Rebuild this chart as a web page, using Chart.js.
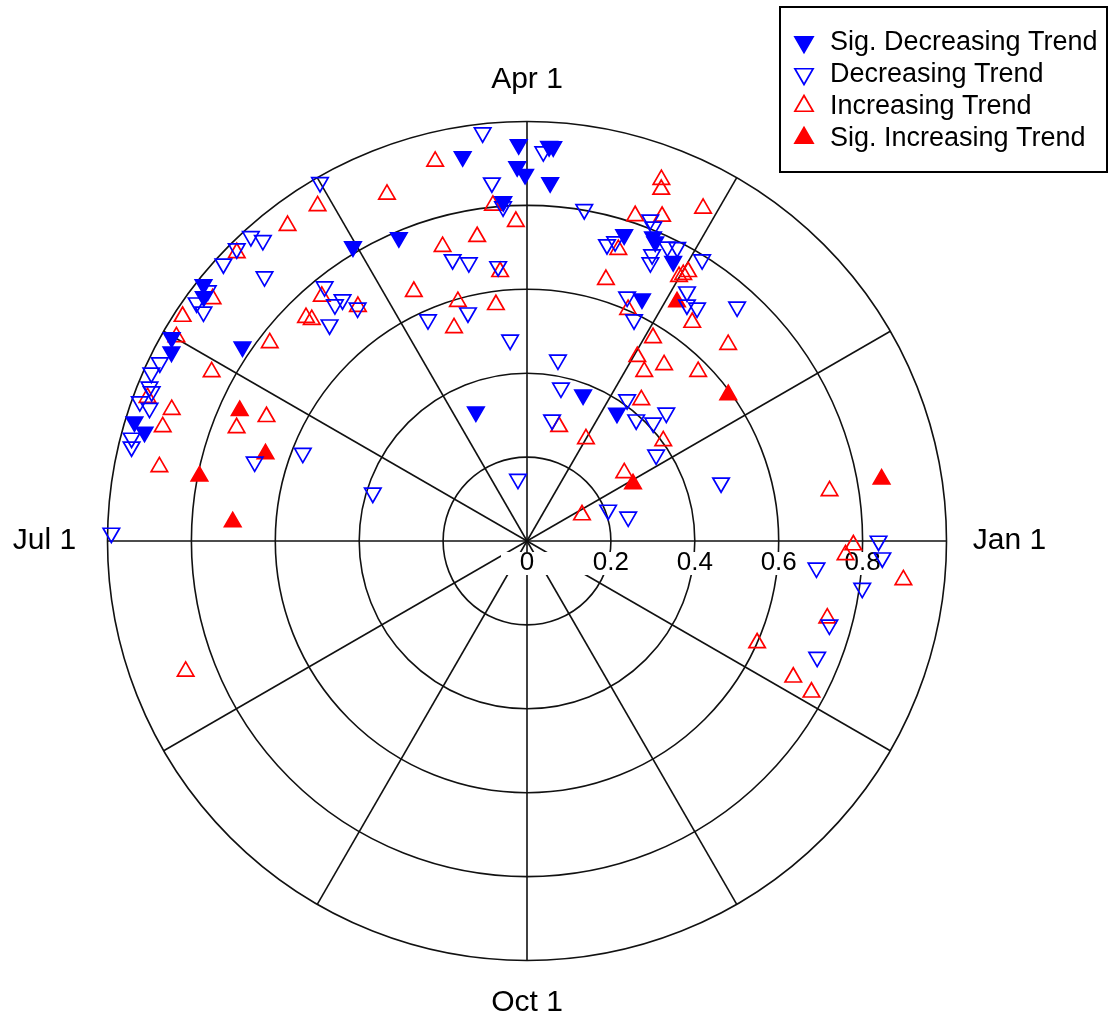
<!DOCTYPE html>
<html>
<head>
<meta charset="utf-8">
<script src="https://cdn.jsdelivr.net/npm/chart.js@4.4.1/dist/chart.umd.min.js"></script>
<style>
  html, body { margin: 0; padding: 0; background: #fff; }
</style>
</head>
<body>
<canvas id="chart" width="1110" height="1020"></canvas>
<script>
// angle = degrees counter-clockwise from Jan 1, r = radial value (0..1)
const seriesNames = ['Sig. Decreasing Trend', 'Decreasing Trend', 'Increasing Trend', 'Sig. Increasing Trend']

const sigDecAngle = [141.6, 142.9, 150.2, 152.0, 163.1, 164.1, 145.7, 120.6, 112.9, 99.5, 91.2, 91.5, 90.3,
  94.0, 86.8, 86.2, 86.3, 111.6, 72.4, 67.5, 66.8, 62.4, 64.6, 69.0, 54.9]
const sigDecR = [0.984, 0.966, 0.976, 0.960, 0.978, 0.948, 0.821, 0.815, 0.785, 0.929, 0.945, 0.893, 0.874,
  0.811, 0.942, 0.942, 0.856, 0.331, 0.766, 0.785, 0.776, 0.752, 0.639, 0.373, 0.373]

const decAngle = [96.2, 120.0, 132.2, 131.3, 134.8, 137.6, 134.8, 141.9, 144.2, 144.7, 154.1, 155.9, 157.8,
  158.3, 160.2, 160.6, 165.4, 166.6, 178.9, 163.8, 158.6, 162.7, 128.5, 129.1, 127.4, 126.0, 132.4, 104.8,
  101.8, 96.0, 95.6, 94.1, 114.1, 104.5, 94.8, 98.3, 87.6, 80.2, 69.0, 68.1, 74.9, 73.6, 64.5, 62.9, 66.4,
  66.1, 58.1, 57.3, 67.7, 55.9, 53.9, 48.1, 64.2, 80.3, 77.5, 54.7, 48.0, 43.1, 42.6, 78.3, 33.7, 16.7,
  20.9, 13.4, 0.0, 357.3, 354.7, 352.0, 344.5, 338.2]
const decR = [0.979, 0.987, 0.980, 0.954, 0.982, 0.980, 0.888, 0.967, 0.971, 0.945, 0.973, 0.981, 0.972,
  0.963, 0.981, 0.954, 0.974, 0.969, 0.991, 0.676, 0.574, 0.385, 0.775, 0.726, 0.724, 0.687, 0.698, 0.694,
  0.678, 0.658, 0.858, 0.799, 0.578, 0.562, 0.481, 0.149, 0.929, 0.802, 0.820, 0.807, 0.732, 0.744, 0.777,
  0.786, 0.745, 0.726, 0.790, 0.706, 0.629, 0.680, 0.688, 0.750, 0.586, 0.438, 0.374, 0.413, 0.389, 0.412,
  0.451, 0.295, 0.370, 0.483, 0.207, 0.248, 0.838, 0.848, 0.693, 0.807, 0.748, 0.745]

const incAngle = [122.0, 127.2, 135.2, 142.4, 146.9, 134.7, 149.8, 142.4, 151.8, 159.3, 159.7, 162.6, 168.6,
  154.5, 158.7, 200.9, 112.0, 103.6, 95.8, 92.0, 99.3, 106.0, 95.7, 130.0, 125.8, 134.2, 114.4, 106.1,
  97.5, 108.9, 69.6, 69.1, 62.1, 71.6, 67.4, 72.6, 59.1, 59.6, 60.1, 73.2, 66.4, 52.9, 58.2, 44.3, 59.1,
  52.1, 55.3, 44.7, 51.0, 74.3, 60.0, 36.3, 35.0, 25.3, 9.4, 359.3, 357.5, 354.1, 345.6, 336.1, 332.9, 332.0]
const incR = [0.942, 0.944, 0.975, 0.946, 0.980, 0.749, 0.967, 0.774, 0.853, 0.967, 0.903, 0.910, 0.894,
  0.688, 0.743, 0.871, 0.891, 0.931, 0.804, 0.762, 0.735, 0.730, 0.645, 0.761, 0.689, 0.736, 0.653, 0.594,
  0.568, 0.537, 0.919, 0.897, 0.897, 0.817, 0.838, 0.728, 0.748, 0.736, 0.727, 0.651, 0.602, 0.653, 0.570,
  0.670, 0.512, 0.532, 0.491, 0.574, 0.433, 0.283, 0.281, 0.403, 0.283, 0.145, 0.731, 0.778, 0.760, 0.902,
  0.739, 0.600, 0.713, 0.768]

const sigIncAngle = [155.6, 161.6, 168.8, 176.3, 57.9, 36.0, 28.3, 9.9]
const sigIncR = [0.752, 0.657, 0.796, 0.703, 0.673, 0.593, 0.287, 0.858]

const monthLabels = ['Jan 1', 'Apr 1', 'Jul 1', 'Oct 1']
const monthAngles = [0, 90, 180, 270]
const ringValues = [0.2, 0.4, 0.6, 0.8, 1.0]
const tickValues = [0, 0.2, 0.4, 0.6, 0.8]
const spokeAngles = [0, 30, 60, 90, 120, 150, 180, 210, 240, 270, 300, 330]

const FONT = '"Liberation Sans", Arial, sans-serif'
const BLUE = '#0000FF'
const RED = '#FF0000'

function toXY(angles, radii) {
  return angles.map((a, i) => {
    const t = a * Math.PI / 180
    return { x: radii[i] * Math.cos(t), y: radii[i] * Math.sin(t) }
  })
}

// polar grid, tick labels and month labels drawn on the chart's own x/y scales
const polarGrid = {
  id: 'polarGrid',
  beforeDatasetsDraw(chart) {
    const { ctx } = chart
    const xs = chart.scales.x, ys = chart.scales.y
    const cx = xs.getPixelForValue(0), cy = ys.getPixelForValue(0)
    const unit = xs.getPixelForValue(1) - cx
    const pt = (a, r) => [
      xs.getPixelForValue(r * Math.cos(a * Math.PI / 180)),
      ys.getPixelForValue(r * Math.sin(a * Math.PI / 180))
    ]
    const outer = ringValues[ringValues.length - 1]

    ctx.save()
    ctx.strokeStyle = '#111'
    ctx.lineWidth = 1.6
    spokeAngles.forEach(a => {
      const [ex, ey] = pt(a, outer)
      ctx.beginPath()
      ctx.moveTo(cx, cy)
      ctx.lineTo(ex, ey)
      ctx.stroke()
    })
    ringValues.forEach(r => {
      ctx.beginPath()
      ctx.arc(cx, cy, r * unit, 0, Math.PI * 2)
      ctx.stroke()
    })

    // radial tick labels on a white strip
    ctx.font = '26px ' + FONT
    ctx.textAlign = 'center'
    ctx.textBaseline = 'middle'
    const x0 = xs.getPixelForValue(tickValues[0]) - 26
    const x1 = xs.getPixelForValue(tickValues[tickValues.length - 1]) + 26
    ctx.fillStyle = '#fff'
    ctx.fillRect(x0, cy + 11, x1 - x0, 23)
    ctx.fillStyle = '#000'
    tickValues.forEach(v => ctx.fillText(String(v), xs.getPixelForValue(v), cy + 22))

    // month labels, side ones pushed a little further out
    ctx.font = '30px ' + FONT
    monthLabels.forEach((lab, i) => {
      const a = monthAngles[i]
      let [lx, ly] = pt(a, outer * 1.1)
      lx += Math.cos(a * Math.PI / 180) * 21
      ctx.fillText(lab, lx, ly)
    })
    ctx.restore()
  },
  afterDraw(chart) {
    const { ctx } = chart
    ctx.save()
    ctx.fillStyle = '#fff'
    ctx.fillRect(780, 7, 327, 165)
    ctx.strokeStyle = '#000'
    ctx.lineWidth = 2
    ctx.strokeRect(780, 7, 327, 165)
    ctx.font = '27px ' + FONT
    ctx.textBaseline = 'middle'
    ctx.textAlign = 'left'
    chart.data.datasets.forEach((ds, i) => {
      const yy = 42 + i * 32
      ctx.fillStyle = ds.backgroundColor
      ctx.strokeStyle = ds.borderColor
      ctx.lineWidth = ds.borderWidth
      Chart.helpers.drawPoint(ctx, {
        pointStyle: 'triangle', rotation: ds.rotation, radius: 10.5, borderWidth: ds.borderWidth
      }, 804, yy)
      ctx.fillStyle = '#000'
      ctx.fillText(ds.label, 830, yy + 1)
    })
    ctx.restore()
  }
}

function series(label, angles, radii, color, filled, down) {
  return {
    label: label,
    data: toXY(angles, radii),
    pointStyle: 'triangle',
    rotation: down ? 180 : 0,
    pointRadius: 9.5,
    pointHoverRadius: 9.5,
    borderWidth: 1.7,
    borderColor: color,
    backgroundColor: filled ? color : 'rgba(0,0,0,0)',
    pointBackgroundColor: filled ? color : 'rgba(0,0,0,0)'
  }
}

const UNIT = 419.5
new Chart(document.getElementById('chart'), {
  type: 'scatter',
  data: {
    datasets: [
      series(seriesNames[0], sigDecAngle, sigDecR, BLUE, true, true),
      series(seriesNames[1], decAngle, decR, BLUE, false, true),
      series(seriesNames[2], incAngle, incR, RED, false, false),
      series(seriesNames[3], sigIncAngle, sigIncR, RED, true, false)
    ]
  },
  options: {
    responsive: false,
    animation: false,
    devicePixelRatio: 1,
    layout: { padding: 0, autoPadding: false },
    plugins: { legend: { display: false }, tooltip: { enabled: false } },
    scales: {
      x: { type: 'linear', min: -527 / UNIT, max: 583 / UNIT, display: false },
      y: { type: 'linear', min: -479 / UNIT, max: 541 / UNIT, display: false }
    }
  },
  plugins: [polarGrid]
})
</script>
</body>
</html>
